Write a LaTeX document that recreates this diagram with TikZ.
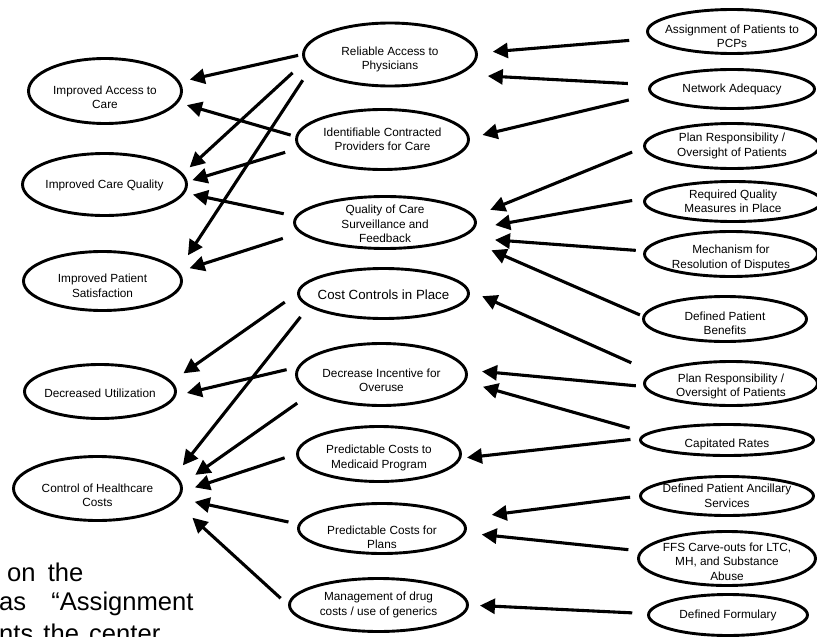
\documentclass[tikz,border=0pt]{standalone}
\usepackage{fontspec}
\setmainfont{Liberation Sans}
\usetikzlibrary{shapes.geometric,arrows.meta}

% invisible strut that pushes a node's text block down
\newcommand{\txtdrop}[1]{\rule{0pt}{#1pt}}

\tikzset{
  goal/.style={shape=ellipse,draw=black,line width=2.9pt,align=center,
    inner xsep=-14pt,inner ysep=-9pt,font=\fontsize{11.8}{14.5}\selectfont},
  dims/.style 2 args={minimum width=#1pt,minimum height=#2pt},
  link/.style={line width=3.1pt},
  gap/.style 2 args={shorten <=#1pt,shorten >=#2pt},
  fragment/.style={anchor=base west,inner sep=0pt,font=\fontsize{25.6}{29}\selectfont},
}

\begin{document}
\begin{tikzpicture}[x=1pt,y=-1pt,>={Triangle[length=15pt,width=15pt]}]
                \useasboundingbox (0,0) rectangle (817,637);
                \clip (0,0) rectangle (817,637);
                % outcomes (left)
                \node[goal,dims={153}{65}] (access) at (105,91) {\txtdrop{21.6}Improved Access to\\Care};
                \node[goal,dims={164}{62}] (quality) at (104.5,184.5) {\txtdrop{10.6}Improved Care Quality};
                \node[goal,dims={158}{59}] (satisfaction) at (102.5,281) {\txtdrop{18.6}Improved Patient\\Satisfaction};
                \node[goal,dims={151}{54}] (utilization) at (100,391.5) {\txtdrop{12.6}Decreased Utilization};
                \node[goal,dims={168}{64}] (healthcost) at (97.5,488.5) {\txtdrop{22.6}Control of Healthcare\\Costs};
                % intermediate effects (middle)
                \node[goal,dims={173}{63}] (physicians) at (390,54.5) {\txtdrop{18.6}Reliable Access to\\Physicians};
                \node[goal,dims={172}{60}] (providers) at (382.5,139.5) {Identifiable Contracted\\Providers for Care};
                \node[goal,dims={181}{52}] (surveillance) at (385,222.5) {\txtdrop{11.6}Quality of Care\\Surveillance and\\Feedback};
                \node[goal,dims={170}{50},font=\fontsize{13.3}{15}\selectfont] (costctrl) at (383.5,293.5) {\txtdrop{11.7}Cost Controls in Place};
                \node[goal,dims={170}{62}] (overuse) at (381.5,374.5) {\txtdrop{20.6}Decrease Incentive for\\Overuse};
                \node[goal,dims={163}{55}] (medicaid) at (379,454) {\txtdrop{16.6}Predictable Costs to\\Medicaid Program};
                \node[goal,dims={167}{50}] (plans) at (382,528.5) {\txtdrop{26.6}Predictable Costs for\\Plans};
                \node[goal,dims={178}{53}] (drugs) at (378.5,605) {Management of drug\\costs / use of generics};
                % program features (right)
                \node[goal,dims={169}{44}] (pcp) at (732,31.5) {\txtdrop{18.6}Assignment of Patients to\\PCPs};
                \node[goal,dims={165}{39}] (network) at (732,89) {Network Adequacy};
                \node[goal,dims={175}{45}] (oversightA) at (732,146) {Plan Responsibility /\\Oversight of Patients};
                \node[goal,dims={177}{40}] (measures) at (733,201.5) {Required Quality\\Measures in Place};
                \node[goal,dims={173}{45}] (disputes) at (731,254) {\txtdrop{16.6}Mechanism for\\Resolution of Disputes};
                \node[goal,dims={163}{45}] (benefits) at (725,319) {\txtdrop{17.6}Defined Patient\\Benefits};
                \node[goal,dims={173}{44}] (oversightB) at (731,383.5) {\txtdrop{14.6}Plan Responsibility /\\Oversight of Patients};
                \node[goal,dims={173}{31}] (capitated) at (727,440) {\txtdrop{16.6}Capitated Rates};
                \node[goal,dims={173}{39}] (ancillary) at (727,496) {Defined Patient Ancillary\\Services};
                \node[goal,dims={177}{54}] (carveout) at (727,558.5) {\txtdrop{14.6}FFS Carve-outs for LTC,\\MH, and Substance\\Abuse};
                \node[goal,dims={159}{41}] (formulary) at (728,615) {Defined Formulary};
                % features -> effects
                \path [->] (pcp.185) edge[link,gap={21}{15}] (physicians.1);
                \path [->] (network.177) edge[link,gap={22}{28}] (physicians.-16);
                \path [->] (network.184) edge[link,gap={23}{13}] (providers.1);
                \path [->] (oversightA.181) edge[link,gap={12}{17}] (surveillance.4);
                \path [->] (measures.178) edge[link,gap={12}{21}] (surveillance.-4);
                \path [->] (disputes.178) edge[link,gap={8}{33}] (surveillance.-11);
                \path [->] (benefits.178) edge[link,gap={3}{32}] (surveillance.-11);
                \path [->] (oversightB.172) edge[link,gap={24}{14}] (costctrl.2);
                \path [->] (oversightB.182) edge[link,gap={8}{15}] (overuse.3);
                \path [->] (capitated.175) edge[link,gap={18}{18}] (overuse.-5);
                \path [->] (capitated.179) edge[link,gap={9}{6}] (medicaid.-3);
                \path [->] (ancillary.180) edge[link,gap={9}{31}] (plans.7);
                \path [->] (carveout.175) edge[link,gap={12}{16}] (plans.-3);
                \path [->] (formulary.179) edge[link,gap={15}{11}] (drugs.0);
                % effects -> outcomes
                \path [->] (physicians.180) edge[link,gap={4}{10}] (access.7);
                \path [->] (physicians.185) edge[link,gap={16}{9}] (quality.8);
                \path [->] (physicians.190) edge[link,gap={14}{18}] (satisfaction.8);
                \path [->] (providers.178) edge[link,gap={5}{9}] (access.-9);
                \path [->] (providers.186) edge[link,gap={14}{5}] (quality.2);
                \path [->] (surveillance.176) edge[link,gap={12}{8}] (quality.-6);
                \path [->] (surveillance.187) edge[link,gap={18}{11}] (satisfaction.7);
                \path [->] (costctrl.180) edge[link,gap={15}{14}] (utilization.8);
                \path [->] (costctrl.190) edge[link,gap={13}{12}] (healthcost.10);
                \path [->] (overuse.175) edge[link,gap={11}{11}] (utilization.-3);
                \path [->] (overuse.195) edge[link,gap={17}{16}] (healthcost.3);
                \path [->] (medicaid.180) edge[link,gap={12}{13}] (healthcost.-2);
                \path [->] (plans.177) edge[link,gap={10}{16}] (healthcost.-7);
                \path [->] (drugs.180) edge[link,gap={10}{23}] (healthcost.-10);
                % slide text behind the chart
                \node[fragment] (textA) at (7,581) {on\hspace{5pt} the};
                \node[fragment] (textB) at (-1,610) {as\hspace{18pt} “Assignment};
                \node[fragment] (textC) at (-1,642) {nts\hspace{3pt} the\hspace{3pt} center};
            \end{tikzpicture}
\end{document}
